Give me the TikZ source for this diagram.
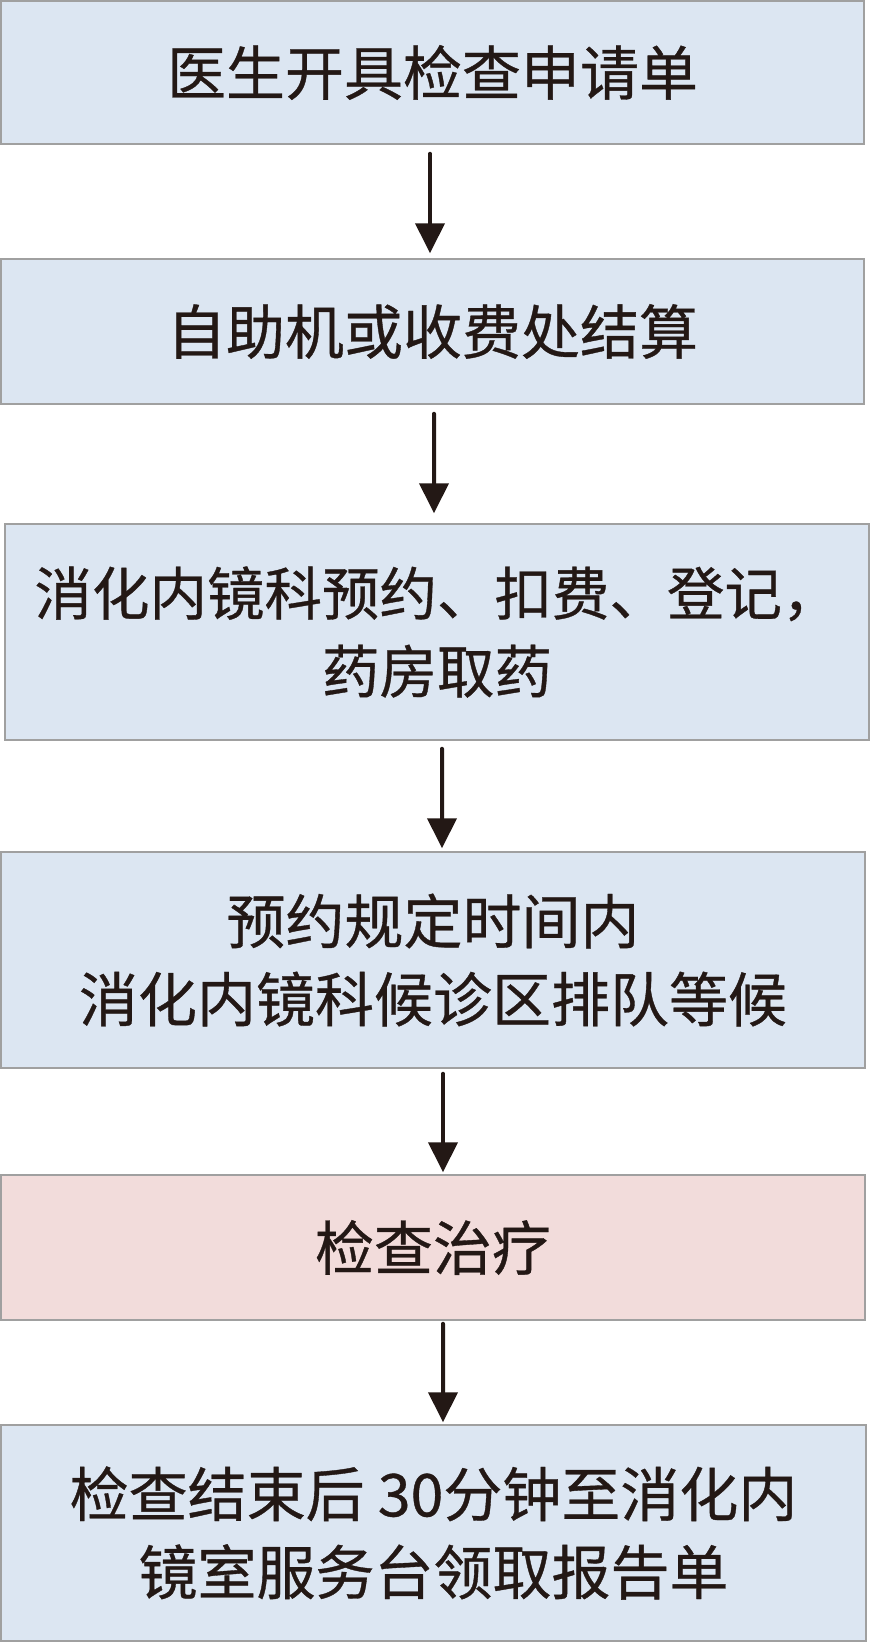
\documentclass[tikz,border=0pt]{standalone}
\usepackage{fontspec}
\newfontfamily\cjk[FakeBold=0.6]{Noto Sans CJK SC}
\usetikzlibrary{arrows.meta}
\definecolor{boxblue}{HTML}{DCE6F2}
\definecolor{boxpink}{HTML}{F2DCDB}
\definecolor{boxline}{HTML}{A0A0A0}
\definecolor{ink}{HTML}{231815}
\tikzset{
  stepbox/.style={draw=boxline, line width=1.5bp, fill=boxblue, rectangle,
    inner sep=0pt, text=ink, align=center,
    font=\cjk\fontsize{59bp}{78bp}\selectfont},
  pinkbox/.style={stepbox, fill=boxpink},
  flowarrow/.style={draw=ink, line width=4bp, line cap=round,
    -{Triangle[width=29bp,length=30bp]}}
}
\begin{document}
\begin{tikzpicture}[x=1bp,y=-1bp]
\useasboundingbox (0,0) rectangle (870,1642);
\fill[white] (0,0) rectangle (870,1642);
\node[stepbox, minimum width=863bp, minimum height=143bp] (b1) at (432.5,72.5) {医生开具检查申请单};
\node[stepbox, minimum width=863bp, minimum height=145bp] (b2) at (432.5,331.5) {自助机或收费处结算};
\node[stepbox, minimum width=864bp, minimum height=216bp,
      font=\cjk\fontsize{57.5bp}{78bp}\selectfont] (b3) at (437,632) {消化内镜科预约、扣费、登记，\\药房取药};
\node[stepbox, minimum width=864bp, minimum height=216bp] (b4) at (433,960) {预约规定时间内\\消化内镜科候诊区排队等候};
\node[pinkbox, minimum width=864bp, minimum height=145bp] (b5) at (433,1247.5) {检查治疗};
\node[stepbox, minimum width=865bp, minimum height=216bp] (b6) at (433.5,1533) {检查结束后 30分钟至消化内\\镜室服务台领取报告单};
\draw[flowarrow] ([xshift=-2.5bp,yshift=-9bp]b1.south) -- ([xshift=-2.5bp,yshift=5bp]b2.north);
\draw[flowarrow] ([xshift=1.5bp,yshift=-9bp]b2.south) -- ([xshift=-3bp,yshift=10bp]b3.north);
\draw[flowarrow] ([xshift=5bp,yshift=-8bp]b3.south) -- ([xshift=9bp,yshift=3bp]b4.north);
\draw[flowarrow] ([xshift=10bp,yshift=-5bp]b4.south) -- ([xshift=10bp,yshift=2bp]b5.north);
\draw[flowarrow] ([xshift=10bp,yshift=-3bp]b5.south) -- ([xshift=9.5bp,yshift=2bp]b6.north);
\end{tikzpicture}
\end{document}
